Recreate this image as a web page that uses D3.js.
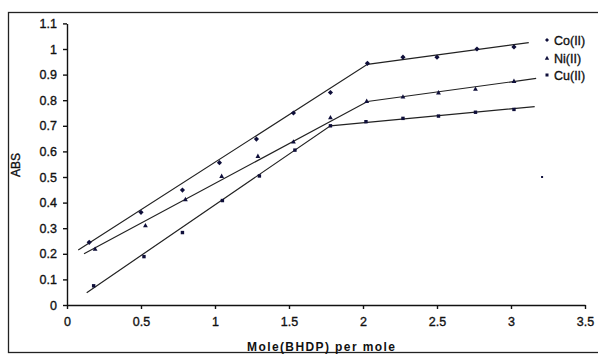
<!DOCTYPE html>
<html><head><meta charset="utf-8">
<script src="https://cdn.jsdelivr.net/npm/d3@7"></script>
<style>body{margin:0;background:#fff}svg{display:block}text{font-family:"Liberation Sans",Arial,sans-serif;fill:#111}</style>
</head><body><svg id="c" width="598" height="354"></svg>
<script>
const xTicks = [0,0.5,1,1.5,2,2.5,3,3.5];
const yTicks = [0,0.1,0.2,0.3,0.4,0.5,0.6,0.7,0.8,0.9,1,1.1];
const seriesNames = ["Co(II)","Ni(II)","Cu(II)"];
const coX = [0.15,0.5,0.78,1.03,1.28,1.53,1.78,2.03,2.27,2.5,2.77,3.02];
const coY = [0.245,0.362,0.449,0.556,0.648,0.75,0.83,0.944,0.968,0.968,1.0,1.008];
const niX = [0.19,0.53,0.8,1.045,1.29,1.53,1.78,2.025,2.27,2.51,2.76,3.02];
const niY = [0.219,0.311,0.413,0.504,0.582,0.638,0.733,0.797,0.814,0.83,0.844,0.875];
const cuX = [0.18,0.52,0.78,1.05,1.3,1.54,1.78,2.02,2.27,2.51,2.76,3.02];
const cuY = [0.075,0.189,0.283,0.408,0.504,0.605,0.70,0.716,0.729,0.738,0.753,0.764];
// fitted trend lines (two segments each)
const coLineX = [0.076,2.03,3.12], coLineY = [0.215,0.94,1.025];
const niLineX = [0.115,2.03,3.17], niLineY = [0.20,0.795,0.885];
const cuLineX = [0.133,1.78,3.16], cuLineY = [0.048,0.70,0.775];
const strayX = [3.21], strayY = [0.50];

const svg = d3.select("#c");
const x = d3.scaleLinear().domain([0,3.5]).range([67,585]);
const y = d3.scaleLinear().domain([0,1.1]).range([305,23.4]);

svg.append("rect").attr("x",8.5).attr("y",12.5).attr("width",600).attr("height",340)
  .attr("fill","none").attr("stroke","#222").attr("stroke-width",1.3);

const xa = svg.append("g").attr("transform","translate(0,305)")
  .call(d3.axisBottom(x).tickValues(xTicks).tickFormat(d3.format("")).tickSize(4).tickSizeOuter(0));
const ya = svg.append("g").attr("transform","translate(67,0)")
  .call(d3.axisLeft(y).tickValues(yTicks).tickFormat(d3.format("")).tickSize(4).tickSizeOuter(0));
[xa,ya].forEach(g=>{
  g.select(".domain").attr("stroke","#111").attr("stroke-width",1.4);
  g.selectAll(".tick line").attr("stroke","#111").attr("stroke-width",1.4);
  g.selectAll(".tick text").attr("font-size",12.5).attr("fill","#111")
   .attr("stroke","#111").attr("stroke-width",0.35)
   .attr("font-family","Liberation Sans, Arial, sans-serif");
});
xa.selectAll(".tick text").attr("dy","1.15em");
ya.selectAll(".tick text").attr("dx","-3");

svg.append("text").attr("transform","translate(20,165) rotate(-90)").attr("text-anchor","middle")
  .attr("font-size",12).attr("stroke","#111").attr("stroke-width",0.35).text("ABS");
svg.append("text").attr("x",321).attr("y",351).attr("text-anchor","middle")
  .attr("font-size",12).attr("font-weight","bold").attr("textLength",148).text("Mole(BHDP) per mole");

const line = d3.line().x(d=>x(d[0])).y(d=>y(d[1]));
[[coLineX,coLineY],[niLineX,niLineY],[cuLineX,cuLineY]].forEach(([lx,ly])=>{
  svg.append("path").datum(lx.map((v,i)=>[v,ly[i]])).attr("d",line)
    .attr("fill","none").attr("stroke","#222").attr("stroke-width",1.2);
});

const mk = "#0f0f3a";
function diamond(g,cx,cy,s){g.append("path").attr("d",`M${cx},${cy-s}L${cx+s},${cy}L${cx},${cy+s}L${cx-s},${cy}Z`).attr("fill",mk);}
function tri(g,cx,cy,s){g.append("path").attr("d",`M${cx},${cy-s}L${cx+s},${cy+s*0.8}L${cx-s},${cy+s*0.8}Z`).attr("fill",mk);}
function sq(g,cx,cy,s){g.append("rect").attr("x",cx-s).attr("y",cy-s).attr("width",2*s).attr("height",2*s).attr("fill",mk);}
const pts = svg.append("g");
coX.forEach((v,i)=>diamond(pts,x(v),y(coY[i]),2.6));
niX.forEach((v,i)=>tri(pts,x(v),y(niY[i]),2.4));
cuX.forEach((v,i)=>sq(pts,x(v),y(cuY[i]),1.7));
strayX.forEach((v,i)=>sq(pts,x(v),y(strayY[i]),1));

const lg = svg.append("g");
const legY = [40,58,75];
const markers = [diamond,tri,sq];
const msize = [2,2.2,1.5];
seriesNames.forEach((n,i)=>{
  markers[i](lg,547,legY[i],msize[i]);
  lg.append("text").attr("x",554).attr("y",legY[i]+4.5).attr("font-size",12.5)
    .attr("stroke","#111").attr("stroke-width",0.35).text(n);
});
</script></body></html>
